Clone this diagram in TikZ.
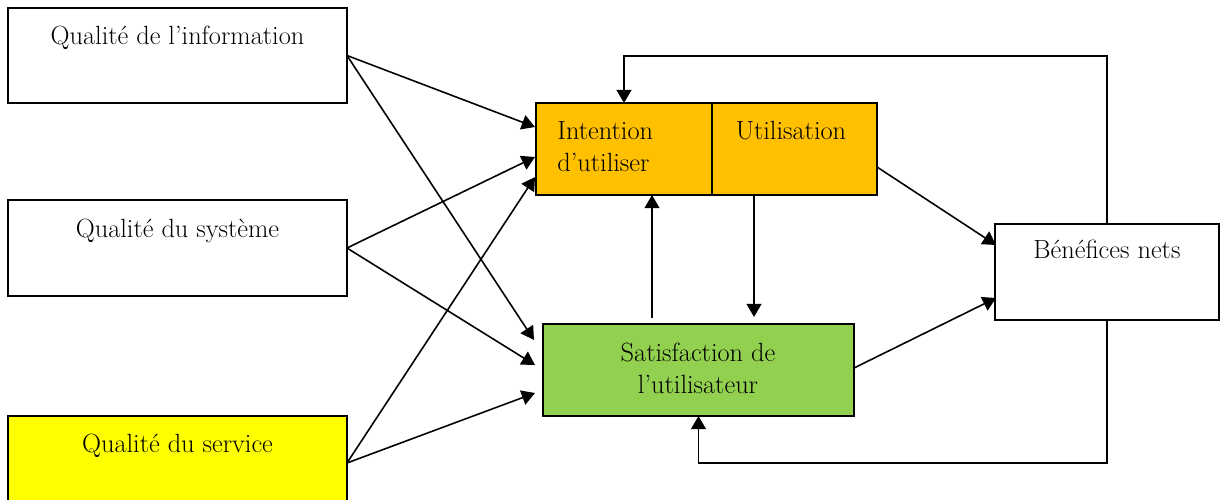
\documentclass[tikz,border=0pt]{standalone}
\usetikzlibrary{arrows.meta}
\definecolor{orangebox}{HTML}{FFC000}
\definecolor{greenbox}{HTML}{92D050}
\definecolor{yellowbox}{HTML}{FFFF00}
\begin{document}
\begin{tikzpicture}[x=0.02cm,y=-0.02cm,
  box/.style={draw=black,line width=1pt,inner sep=0pt,outer sep=0pt},
  lbl/.style={inner sep=0pt,anchor=base,font=\fontsize{15}{18}\selectfont},
  link/.style={line width=0.9pt,-{Triangle[length=7.5pt,width=8.5pt]}},
  loop/.style={line width=0.9pt,-{Triangle[length=7.5pt,width=8.5pt]}}]
\useasboundingbox (0,0) rectangle (1221,500);

% quality boxes on the left
\node[box,minimum width=6.78cm,minimum height=1.90cm] (qi) at (177.5,55.5) {};
\node[box,minimum width=6.78cm,minimum height=1.92cm] (qs) at (177.5,248) {};
\node[box,fill=yellowbox,minimum width=6.78cm,minimum height=1.88cm] (qv) at (177.5,463) {};
\node[lbl] (tqi) at (177.5,45) {Qualité de l’information};
\node[lbl] (tqs) at (177.5,237) {Qualité du système};
\node[lbl] (tqv) at (177.5,452) {Qualité du service};

% intention / use
\node[box,fill=orangebox,minimum width=3.52cm,minimum height=1.84cm] (int) at (624,149) {};
\node[box,fill=orangebox,minimum width=3.30cm,minimum height=1.84cm] (use) at (794.5,149) {};
\node[lbl,anchor=base west] (tint1) at (557,140) {Intention};
\node[lbl,anchor=base west] (tint2) at (557,172) {d’utiliser};
\node[lbl] (tuse) at (791,140) {Utilisation};

% user satisfaction
\node[box,fill=greenbox,minimum width=6.22cm,minimum height=1.84cm] (sat) at (698.5,370) {};
\node[lbl] (tsat1) at (698,361) {Satisfaction de};
\node[lbl] (tsat2) at (698,393) {l’utilisateur};

% net benefits
\node[box,minimum width=4.48cm,minimum height=1.92cm] (ben) at (1107,272) {};
\node[lbl] (tben) at (1107,258) {Bénéfices nets};

% arrow ends
\coordinate (i1) at (535,127);
\coordinate (i2) at (535,157);
\coordinate (i3) at (535,177);
\coordinate (s1) at (534,340);
\coordinate (s2) at (535,365);
\coordinate (s3) at (535,393);
\coordinate (b1) at (996,245);
\coordinate (b2) at (996,298);
\coordinate (ue) at (877,167);
\coordinate (se) at (854,368);
\coordinate (up) at ([xshift=-0.93cm]sat.north);
\coordinate (dn) at ([xshift=-0.81cm]use.south);

% quality -> intention / satisfaction
\draw[link] (qi.east) -- (i1);
\draw[link] (qi.east) -- (s1);
\draw[link] (qs.east) -- (i2);
\draw[link] (qs.east) -- (s2);
\draw[link] (qv.east) -- (i3);
\draw[link] (qv.east) -- (s3);

% between intention/use and satisfaction
\draw[link,shorten <=0.12cm] (up) -- (up |- int.south);
\draw[link,shorten >=0.14cm] (dn) -- (dn |- sat.north);

% towards net benefits
\draw[link] (ue) -- (b1);
\draw[link] (se) -- (b2);

% feedback loops
\draw[loop] (ben.north) -- (1107,56) -| (int.north);
\draw[loop] (ben.south) -- (1107,463) -| (sat.south);
\end{tikzpicture}
\end{document}
